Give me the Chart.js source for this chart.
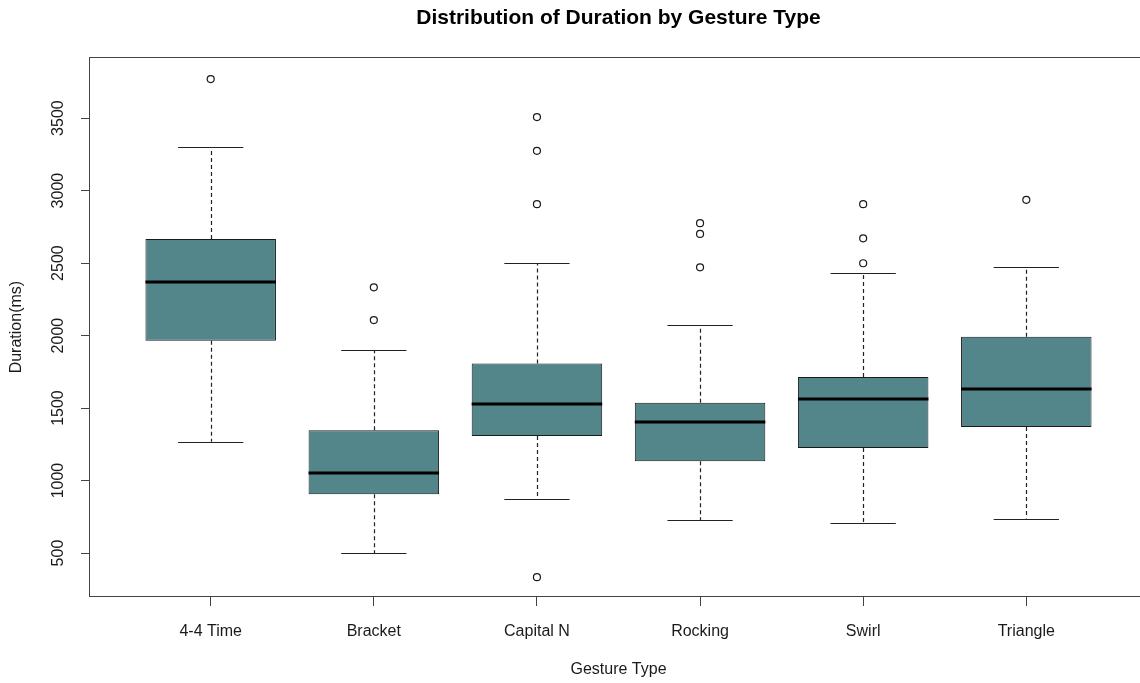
<!DOCTYPE html>
<html>
<head>
<meta charset="utf-8">
<title>Distribution of Duration by Gesture Type</title>
<script src="https://cdn.jsdelivr.net/npm/chart.js@4.4.1/dist/chart.umd.min.js"></script>
<style>
  html, body { margin: 0; padding: 0; background: #fff; overflow: hidden; }
  #wrap { width: 1160px; height: 683px; }
</style>
</head>
<body>
<div id="wrap"><canvas id="boxChart"></canvas></div>
<script>
// values (ms)
const gestures = ['4-4 Time', 'Bracket', 'Capital N', 'Rocking', 'Swirl', 'Triangle'];
const whiskerLow = [1267, 500, 871, 726, 707, 738];
const q1 = [1964, 905, 1308, 1133, 1225, 1370];
const median = [2372, 1055, 1529, 1405, 1566, 1635];
const q3 = [2666, 1347, 1808, 1536, 1715, 1992];
const whiskerHigh = [3300, 1898, 2501, 2070, 2430, 2471];
const outliers = [
    [3769],
    [2107, 2333],
    [334, 2906, 3274, 3507],
    [2471, 2701, 2775],
    [2499, 2671, 2906],
    [2936]
];
const yTicks = [500, 1000, 1500, 2000, 2500, 3000, 3500];

const ink = '#1a1a1a';
const font = { family: '"Liberation Sans", Arial, sans-serif', size: 16 };

// whiskers, caps, medians and the plot frame, placed with the chart's scales
const boxPlugin = {
    id: 'boxWhiskers',
    beforeDatasetsDraw(chart) {
        const { ctx, scales: { y } } = chart;
        const bars = chart.getDatasetMeta(0).data;
        ctx.save();
        ctx.strokeStyle = '#222';
        ctx.lineWidth = 1.2;
        bars.forEach((bar, i) => {
            const x = Math.round(bar.x) + 0.5;
            const cap = bar.width / 4;
            ctx.setLineDash([4, 3]);
            ctx.beginPath();
            ctx.moveTo(x, y.getPixelForValue(q3[i]));
            ctx.lineTo(x, y.getPixelForValue(whiskerHigh[i]));
            ctx.moveTo(x, y.getPixelForValue(q1[i]));
            ctx.lineTo(x, y.getPixelForValue(whiskerLow[i]));
            ctx.stroke();
            ctx.setLineDash([]);
            ctx.beginPath();
            [whiskerHigh[i], whiskerLow[i]].forEach(v => {
                const py = Math.round(y.getPixelForValue(v)) + 0.5;
                ctx.moveTo(bar.x - cap, py);
                ctx.lineTo(bar.x + cap, py);
            });
            ctx.stroke();
        });
        ctx.restore();
    },
    afterDatasetsDraw(chart) {
        const { ctx, scales: { y } } = chart;
        const bars = chart.getDatasetMeta(0).data;
        ctx.save();
        ctx.strokeStyle = '#000';
        ctx.lineWidth = 3;
        bars.forEach((bar, i) => {
            const py = Math.round(y.getPixelForValue(median[i]));
            ctx.beginPath();
            ctx.moveTo(bar.x - bar.width / 2, py);
            ctx.lineTo(bar.x + bar.width / 2, py);
            ctx.stroke();
        });
        ctx.restore();
    },
    afterDraw(chart) {
        const { ctx, chartArea: a } = chart;
        ctx.save();
        ctx.strokeStyle = '#444';
        ctx.lineWidth = 1;
        const l = Math.round(a.left) - 0.5, t = Math.round(a.top) + 0.5;
        ctx.strokeRect(l, t, Math.round(a.right) - l, Math.round(a.bottom) - 0.5 - t);
        ctx.restore();
    }
};

new Chart(document.getElementById('boxChart'), {
    type: 'bar',
    data: {
        datasets: [{
            type: 'bar',
            data: gestures.map((g, i) => ({ x: i + 1, y: [q1[i], q3[i]] })),
            backgroundColor: '#53868B',
            borderColor: ink,
            borderWidth: 1,
            borderSkipped: false,
            categoryPercentage: 0.8,
            barPercentage: 1
        }, {
            type: 'scatter',
            data: outliers.flatMap((vals, i) => vals.map(v => ({ x: i + 1, y: v }))),
            pointRadius: 3.5,
            pointBorderWidth: 1.2,
            pointBackgroundColor: '#fff',
            pointBorderColor: ink
        }]
    },
    options: {
        responsive: true,
        maintainAspectRatio: false,
        animation: false,
        layout: { padding: { left: 0, right: 13, top: 0, bottom: 0 } },
        plugins: {
            legend: { display: false },
            tooltip: { enabled: false },
            title: {
                display: true,
                text: 'Distribution of Duration by Gesture Type',
                fullSize: false,
                color: '#000',
                font: { family: font.family, size: 21, weight: 'bold' },
                padding: { top: 6, bottom: 26 }
            }
        },
        scales: {
            x: {
                type: 'linear',
                min: 0.26,
                max: 6.74,
                offset: false,
                afterBuildTicks: s => { s.ticks = gestures.map((g, i) => ({ value: i + 1 })); },
                afterFit: s => { s.height = 86; },
                ticks: {
                    color: ink,
                    font: font,
                    padding: 16,
                    maxRotation: 0,
                    autoSkip: false,
                    callback: v => gestures[v - 1]
                },
                grid: { offset: false, drawOnChartArea: false, tickLength: 9, color: '#444' },
                border: { display: false },
                title: {
                    display: true,
                    text: 'Gesture Type',
                    color: ink,
                    font: font,
                    padding: { top: 0, bottom: 4 }
                }
            },
            y: {
                type: 'linear',
                min: 197,
                max: 3920,
                afterBuildTicks: s => { s.ticks = yTicks.map(v => ({ value: v })); },
                afterFit: s => { s.width = 90; },
                ticks: {
                    color: ink,
                    font: font,
                    padding: 5,
                    minRotation: 90,
                    maxRotation: 90,
                    crossAlign: 'center',
                    callback: v => String(v)
                },
                grid: { drawOnChartArea: false, tickLength: 9, color: '#444' },
                border: { display: false },
                title: {
                    display: true,
                    text: 'Duration(ms)',
                    color: ink,
                    font: font,
                    padding: { top: 7, bottom: 0 }
                }
            }
        }
    },
    plugins: [boxPlugin]
});
</script>
</body>
</html>
